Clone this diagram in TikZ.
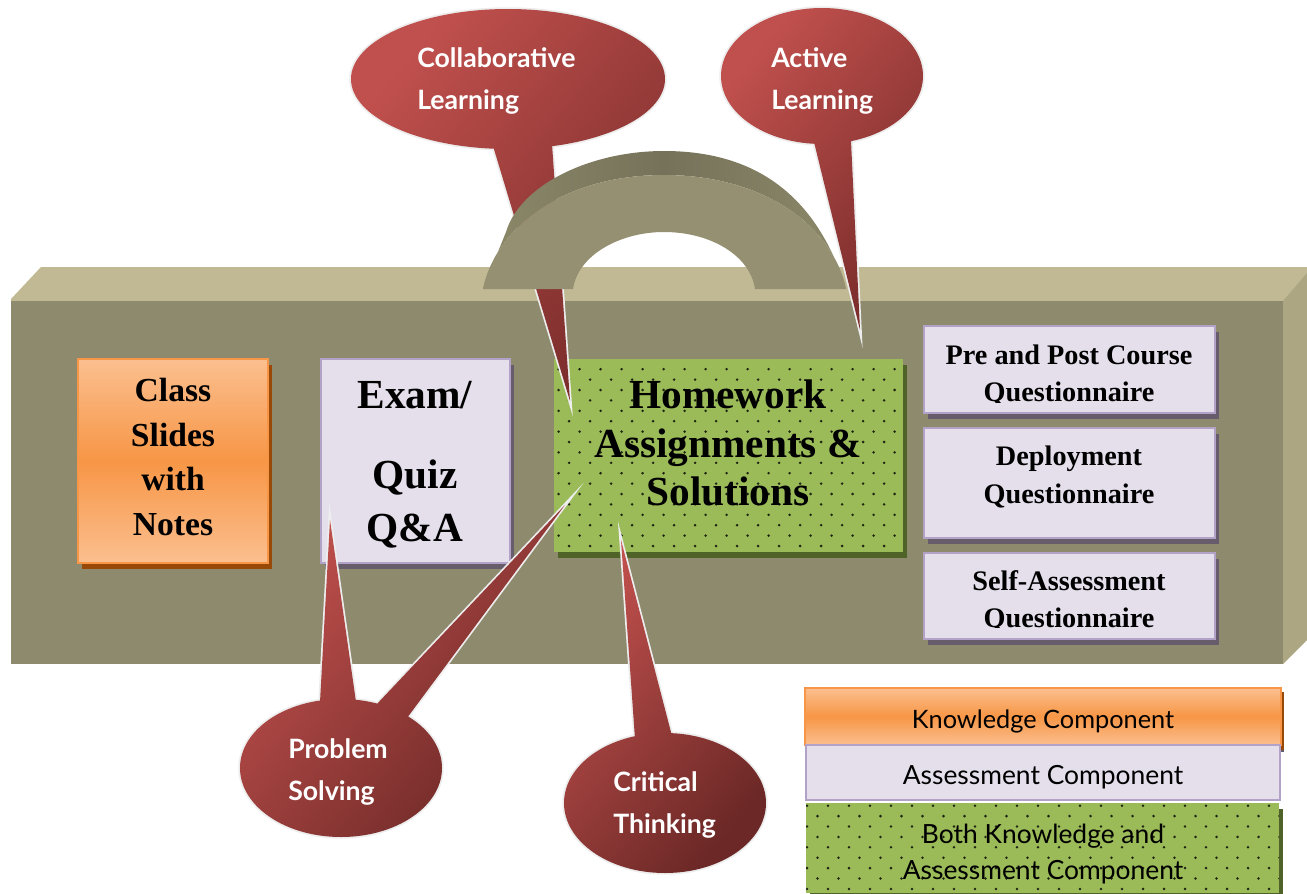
\documentclass[tikz,border=0pt]{standalone}
\usepackage{fontspec}
\setmainfont{Liberation Serif}
\newfontfamily\comic{Lato}
\definecolor{bandtop}{HTML}{C1B994}
\definecolor{bandfront}{HTML}{8E8A6D}
\definecolor{bandside}{HTML}{ACA682}
\definecolor{handlefront}{HTML}{959071}
\definecolor{handleedge}{HTML}{8C8869}
\definecolor{handlemid}{HTML}{76725A}
\definecolor{orangeedge}{HTML}{F79646}
\definecolor{orangelight}{HTML}{FBBF8F}
\definecolor{orangeshadow}{HTML}{984807}
\definecolor{lilacfill}{HTML}{E5DFEC}
\definecolor{lilacedge}{HTML}{B2A2C7}
\definecolor{lilacshadow}{HTML}{665C6B}
\definecolor{greenfill}{HTML}{9BBB59}
\definecolor{greenshadow}{HTML}{4F6228}
\definecolor{bubA}{HTML}{C0504D}
\definecolor{bubB}{HTML}{6B2826}
\definecolor{bubC}{HTML}{7A2D2B}
\newcommand\fz[2]{\fontsize{#1}{#2}\selectfont}
\newcommand\orangebox[4]{%
  \fill[orangeshadow] (#1+4,#2+6) rectangle (#3+4,#4+6);
  \shade[top color=orangelight,bottom color=orangelight,middle color=orangeedge] (#1,#2) rectangle (#3,#4);
  \draw[orangeedge,line width=1.6pt] (#1,#2) rectangle (#3,#4);}
\newcommand\lilacbox[4]{%
  \fill[lilacshadow] (#1+4,#2+6) rectangle (#3+4,#4+6);
  \fill[lilacfill] (#1,#2) rectangle (#3,#4);
  \draw[lilacedge,line width=1.6pt] (#1,#2) rectangle (#3,#4);}
% x1 y1 x2 y2 ; first dot x0 y0
\newcommand\greenbox[6]{%
  \fill[greenshadow] (#1+4,#2+6) rectangle (#3+4,#4+6);
  \fill[greenfill] (#1,#2) rectangle (#3,#4);
  \begin{scope}
    \clip (#1,#2) rectangle (#3,#4);
    \foreach \r in {0,...,21}{
      \foreach \c in {-2,...,24}{
        \pgfmathsetmacro\dx{#5+21*\c+10.5*mod(\r,2)}
        \pgfmathsetmacro\dy{#6+10.4*\r}
        \fill[black!80!greenfill] (\dx,\dy) circle[radius=1.4];
      }
    }
  \end{scope}}
% cx cy rx ry tails endcolor
\newcommand\bubble[6]{%
  \draw[white!93!black,line width=2.6pt,line join=miter,miter limit=30] (#1,#2) ellipse[x radius=#3,y radius=#4] #5;
  \shade[top color=bubA,bottom color=#6,shading angle=50] (#1,#2) ellipse[x radius=#3,y radius=#4] #5;}
\tikzset{
  serifbold/.style={align=center,inner sep=0pt,text=black},
  bubbletext/.style={align=left,inner sep=0pt,text=white,anchor=west},
  legendtext/.style={align=center,inner sep=0pt,text=black}
}
\begin{document}
\begin{tikzpicture}[x=0.75pt,y=-0.75pt]
\useasboundingbox (0,0) rectangle (1307,893);
\fill[white] (0,0) rectangle (1307,893);
% case
\fill[bandtop] (11,302) -- (11,299) -- (41,267) -- (1307,267) -- (1307,275) -- (1283,302) -- cycle;
\fill[bandside] (1283,301) -- (1307,273) -- (1307,640) -- (1283,664) -- cycle;
\fill[bandfront] (11,301) rectangle (1283,664);
% boxes
\orangebox{78}{359}{268}{563}
\lilacbox{321}{359}{510}{563}
\greenbox{554}{359}{903}{552}{558.6}{369.2}
\lilacbox{924}{326}{1215}{413}
\lilacbox{924}{428}{1215}{538}
\lilacbox{924}{553}{1215}{639}
% box texts
\node[serifbold,font={\bfseries\fz{25.2}{33.6}}] (slides) at (173,457) {Class\\Slides\\with\\Notes};
\node[serifbold,font={\bfseries\fz{31}{40}}] (exam) at (415,465) {Exam/\\[20pt]Quiz\\Q\&A};
\node[serifbold,font={\bfseries\fz{31}{36.4}}] (homework) at (728,443) {Homework\\Assignments \&\\Solutions};
\begin{scope}
  \clip (924,326) rectangle (1215,402.5);
  \node[serifbold,font={\bfseries\fz{21.2}{27.8}}] (prepost) at (1069,375.5) {Pre and Post Course\\Questionnaire};
\end{scope}
\node[serifbold,font={\bfseries\fz{21.2}{27.8}}] (deploy) at (1069,477) {Deployment\\Questionnaire};
\begin{scope}
  \clip (924,553) rectangle (1215,627.5);
  \node[serifbold,font={\bfseries\fz{21.2}{27.8}}] (selfassess) at (1069,601.5) {Self-Assessment\\Questionnaire};
\end{scope}
% collaborative bubble goes under the handle
\bubble{508}{79}{157}{70}{(493,146) -- (552,144) -- (570,401) -- cycle}{bubC}
% handle
\shade[left color=handleedge,right color=handleedge,middle color=handlemid]
  (506,232) .. controls (520,185) and (590,151) .. (664,151) .. controls (750,151) and (815,190) .. (846,289)
  .. controls (832,225) and (763,175) .. (664,175) .. controls (565,175) and (497,225) .. (483,289) -- cycle;
\fill[handlefront] (483,289) .. controls (497,225) and (565,175) .. (664,175)
  .. controls (763,175) and (832,225) .. (846,289) -- (755,289)
  .. controls (750,255) and (710,232) .. (664,232)
  .. controls (620,232) and (578,255) .. (573,289) -- cycle;
% other bubbles
\bubble{822}{76}{101}{68}{(814,142) -- (851,141) -- (860,330) -- cycle}{bubC}
\bubble{341}{768}{101}{69}{(356,702) -- (320,702) -- (330,520) -- cycle (407,718) -- (375,706) -- (565,505) -- cycle}{bubB}
\bubble{665}{803}{101}{70}{(672,736) -- (635,739) -- (621,540) -- cycle}{bubB}
\node[bubbletext,font={\comic\bfseries\fz{20}{31.5}}] (collab) at (417,81) {Collaborative\\Learning};
\node[bubbletext,font={\comic\bfseries\fz{20}{31.5}}] (active) at (771,81) {Active\\Learning};
\node[bubbletext,font={\comic\bfseries\fz{20}{32}}] (problem) at (288,772) {Problem\\Solving};
\node[bubbletext,font={\comic\bfseries\fz{20}{31}}] (critical) at (613,805) {Critical\\Thinking};
% legend
\fill[orangeshadow] (808,692) rectangle (1284,750);
\shade[top color=orangelight,bottom color=orangelight,middle color=orangeedge] (805,688) rectangle (1281,745);
\draw[orangeedge,line width=1.2pt] (805,688) rectangle (1281,745);
\fill[lilacshadow] (809,750) rectangle (1284,752);
\fill[lilacfill] (806,745) rectangle (1280,800);
\draw[lilacedge,line width=1.6pt] (806,745) rectangle (1280,800);
\greenbox{806}{803}{1279}{893}{828}{805.7}
\node[legendtext,font={\comic\fz{19}{24}}] (kc) at (1043,721) {Knowledge Component};
\node[legendtext,font={\comic\fz{19.8}{24}}] (ac) at (1043,777) {Assessment Component};
\node[legendtext,font={\comic\fz{19.8}{27}}] (bc) at (1043,854) {Both Knowledge and\\Assessment Component};
\end{tikzpicture}
\end{document}
